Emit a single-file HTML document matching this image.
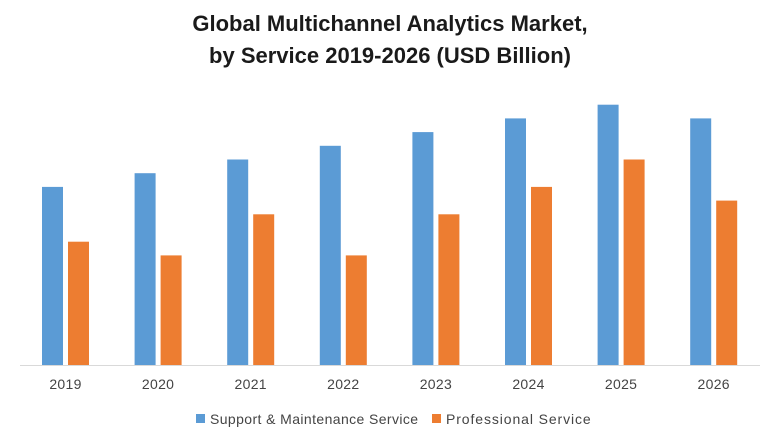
<!DOCTYPE html>
<html><head><meta charset="utf-8"><style>
body{margin:0;background:#fff;}
svg text{font-family:"Liberation Sans",sans-serif;}
</style></head><body>
<svg id="chart" width="780" height="440">
<text x="390" y="31" text-anchor="middle" font-size="22" font-weight="bold" fill="#1a1a1a">Global Multichannel Analytics Market,</text>
<text x="390" y="63" text-anchor="middle" font-size="22" font-weight="bold" fill="#1a1a1a">by Service 2019-2026 (USD Billion)</text>
<line x1="20" y1="365.5" x2="760" y2="365.5" stroke="#d9d9d9"/>
<g id="bars"></g>
<g>
<rect x="196" y="414" width="9" height="9" fill="#5b9bd5"/>
<text x="210" y="424" font-size="14" letter-spacing="0.4" fill="#444">Support &amp; Maintenance Service</text>
<rect x="432" y="414" width="9" height="9" fill="#ed7d31"/>
<text x="446" y="424" font-size="14" letter-spacing="0.9" fill="#444">Professional Service</text>
</g>
</svg>
<script>
const categories=["2019","2020","2021","2022","2023","2024","2025","2026"];
const supportValues=[13,14,15,16,17,18,19,18];
const professionalValues=[9,8,11,8,11,13,15,12];
const g=document.getElementById('bars');
const ns="http://www.w3.org/2000/svg";
const baseY=365, pxPerUnit=13.7, x0=20, groupW=92.6, barW=21;
function y(v){return baseY-v*pxPerUnit;}
function gx(i){return x0+i*groupW;}
categories.forEach((c,i)=>{
  const r1=document.createElementNS(ns,'rect');
  r1.setAttribute('x',gx(i)+22);r1.setAttribute('y',y(supportValues[i]));
  r1.setAttribute('width',barW);r1.setAttribute('height',baseY-y(supportValues[i]));
  r1.setAttribute('fill','#5b9bd5');
  
  
  g.appendChild(r1);
  const r2=document.createElementNS(ns,'rect');
  r2.setAttribute('x',gx(i)+48);r2.setAttribute('y',y(professionalValues[i]));
  r2.setAttribute('width',barW);r2.setAttribute('height',baseY-y(professionalValues[i]));
  r2.setAttribute('fill','#ed7d31');
  
  
  g.appendChild(r2);
  const t=document.createElementNS(ns,'text');
  t.setAttribute('x',gx(i)+45.5);t.setAttribute('y',389);
  t.setAttribute('text-anchor','middle');t.setAttribute('font-size','14');t.setAttribute('letter-spacing','0.3');t.setAttribute('fill','#444');
  t.textContent=c;
  
  
  g.appendChild(t);
});
</script>
</body></html>
